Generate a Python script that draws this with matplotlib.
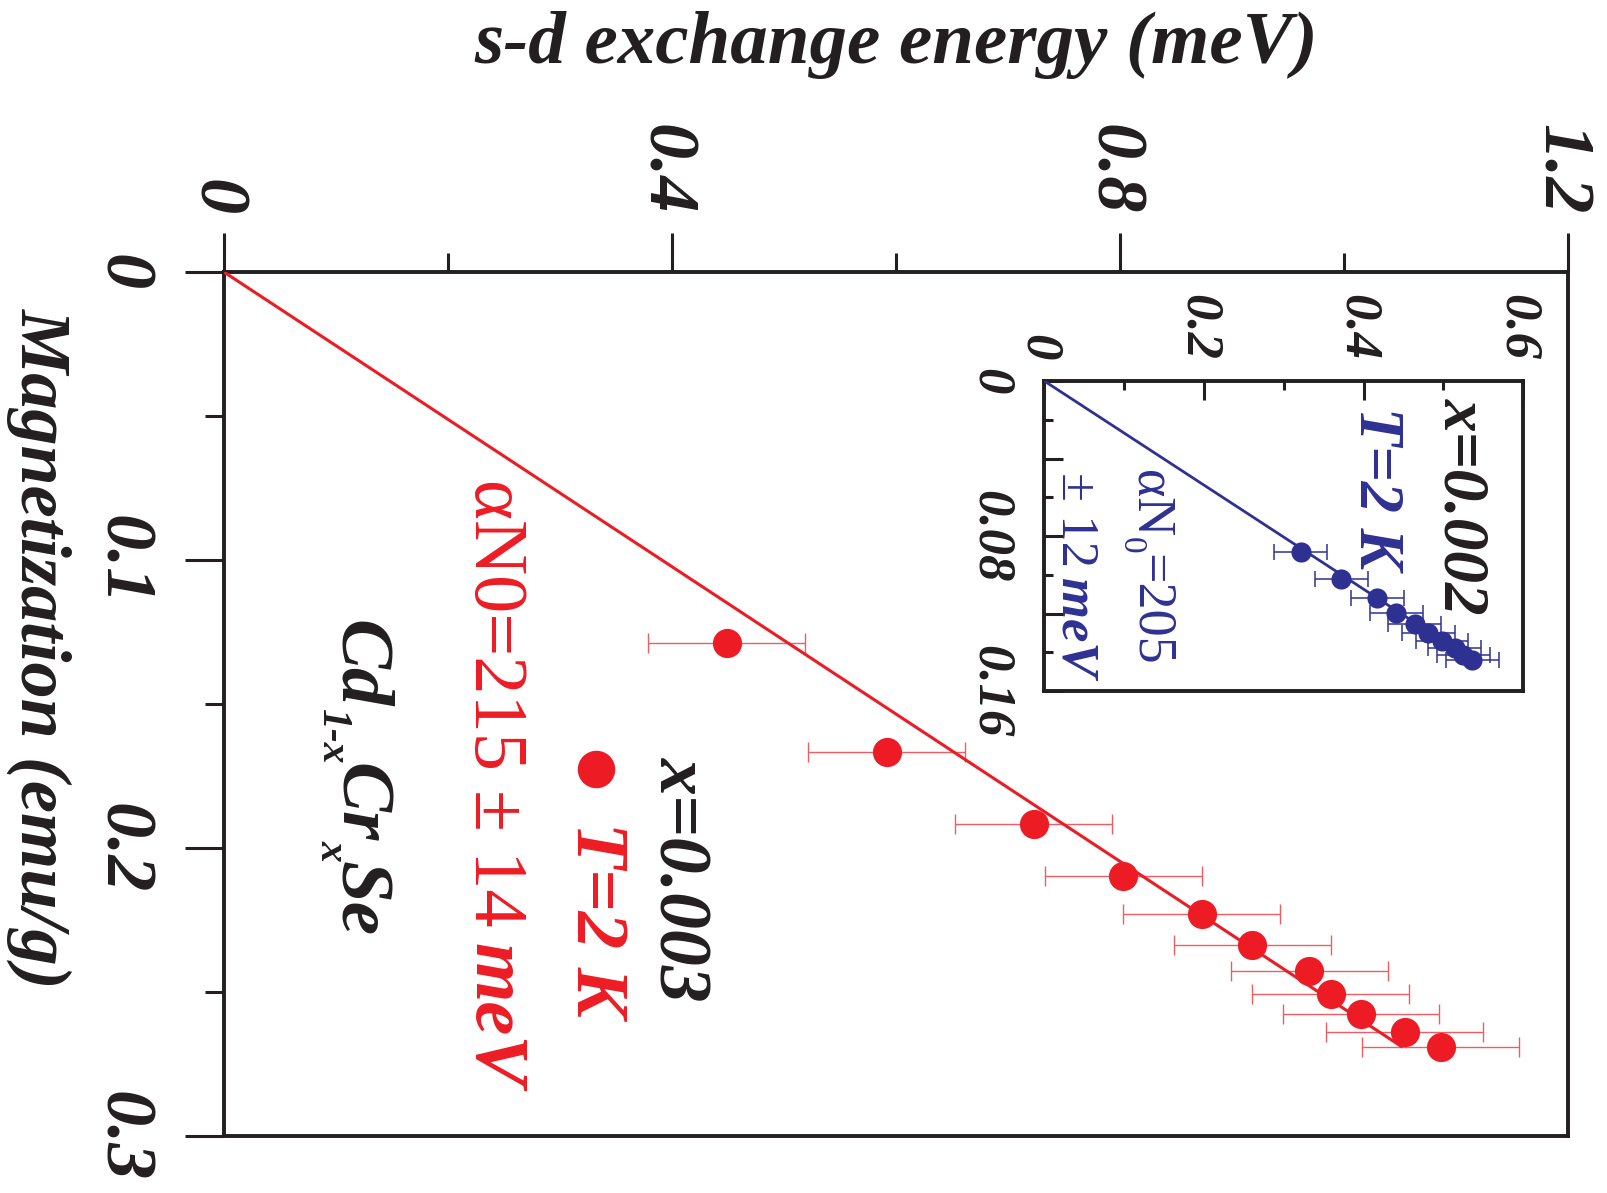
import matplotlib
matplotlib.use("Agg")
import matplotlib.pyplot as plt
from matplotlib.lines import Line2D
from matplotlib.transforms import ScaledTranslation

W_PX, H_PX = 1607, 1193

RED = "#ed1c24"
RED_ERR = "#f15c63"
BLUE = "#2e3192"
INK = "#231f20"

# main panel: Cd(1-x)Cr(x)Se, x = 0.003, T = 2 K
mag_main = [0.1290, 0.1669, 0.1919, 0.2097, 0.2230, 0.2338, 0.2428, 0.2508, 0.2577, 0.2639, 0.2692]
energy_main = [0.449, 0.592, 0.723, 0.803, 0.873, 0.918, 0.969, 0.988, 1.015, 1.054, 1.086]
energy_main_err = [0.07] * len(energy_main)
fit_main_mag = [0.0, 0.269]
fit_main_energy = [0.0, 1.051]

# inset: x = 0.002, T = 2 K
mag_inset = [0.0881, 0.1022, 0.1120, 0.1196, 0.1254, 0.1302, 0.1340, 0.1380, 0.1414, 0.1440]
energy_inset = [0.321, 0.372, 0.417, 0.441, 0.464, 0.481, 0.498, 0.514, 0.525, 0.536]
energy_inset_err = [0.033] * len(energy_inset)
fit_inset_mag = [0.0, 0.144]
fit_inset_energy = [0.0, 0.536]

main_xticks = [0, 0.4, 0.8, 1.2]
main_xticklabels = ["0", "0.4", "0.8", "1.2"]
main_xminor = [0.2, 0.6, 1.0]
main_yticks = [0, 0.1, 0.2, 0.3]
main_yticklabels = ["0", "0.1", "0.2", "0.3"]
main_yminor = [0.05, 0.15, 0.25]

inset_xticks = [0, 0.2, 0.4, 0.6]
inset_xticklabels = ["0", "0.2", "0.4", "0.6"]
inset_xminor = [0.1, 0.3, 0.5]
inset_yticks = [0, 0.04, 0.08, 0.12, 0.16]
inset_yticklabels = ["0", "", "0.08", "", "0.16"]
inset_yminor = [0.02, 0.06, 0.10, 0.14]

plt.rcParams["font.family"] = ["Liberation Serif", "DejaVu Serif"]
plt.rcParams["font.weight"] = "bold"
plt.rcParams["font.style"] = "italic"

BI = dict(weight="bold", style="italic")
RM = dict(weight="normal", style="normal")


def rect(left, top, right, bottom):
    return [left / W_PX, 1 - bottom / H_PX, (right - left) / W_PX, (bottom - top) / H_PX]


def fpos(x, y):
    return x / W_PX, 1 - y / H_PX


def vrun(fig, x, y, pieces, color):
    # text read top to bottom; (x, y) is the start of the baseline in pixels
    renderer = fig.canvas.get_renderer()
    for s, size, style, dx, gap in pieces:
        y += gap
        t = fig.text(*fpos(x + dx, y), s, rotation=-90, rotation_mode="anchor",
                     ha="left", va="baseline", fontsize=size, color=color, **style)
        y += t.get_window_extent(renderer).height


def style_axes(ax, lw):
    for sp in ax.spines.values():
        sp.set_linewidth(lw)
        sp.set_color(INK)


def nudge_top_labels(ax, fig, pts):
    # rotated labels: centre the digits, not the line box, on the tick
    shift = ScaledTranslation(-pts / 72, 0, fig.dpi_scale_trans)
    for lab in ax.get_xticklabels():
        lab.set_transform(lab.get_transform() + shift)


fig = plt.figure(figsize=(W_PX / 100, H_PX / 100), dpi=100)

ax = fig.add_axes(rect(223.5, 271.7, 1568.3, 1135.7))
ax.errorbar(energy_main, mag_main, xerr=energy_main_err, fmt="none", ecolor=RED_ERR,
            elinewidth=1.0, capsize=7.2, capthick=1.0, zorder=2)
ax.plot(fit_main_energy, fit_main_mag, color=RED, lw=2.2, zorder=3)
ax.plot(energy_main, mag_main, "o", color=RED, ms=21, mec="none", zorder=4)
ax.set_xlim(0, 1.2)
ax.set_ylim(0.3, 0)
ax.xaxis.tick_top()
ax.set_xticks(main_xticks)
ax.set_xticklabels(main_xticklabels)
ax.set_xticks(main_xminor, minor=True)
ax.set_yticks(main_yticks)
ax.set_yticklabels(main_yticklabels)
ax.set_yticks(main_yminor, minor=True)
ax.tick_params(which="both", direction="out", width=2.2, color=INK, labelsize=52,
               labelcolor=INK, right=False, bottom=False)
ax.tick_params(which="major", length=28)
ax.tick_params(which="minor", length=14)
ax.tick_params(axis="x", labelrotation=-90, pad=13)
ax.tick_params(axis="y", labelrotation=-90, pad=22)
for lab in ax.get_yticklabels():
    lab.set_va("center")
nudge_top_labels(ax, fig, 5.5)
style_axes(ax, 2.8)

fig.text(*fpos(896, 63), "s-d exchange energy (meV)", ha="center", va="baseline",
         fontsize=54, color=INK, **BI)
vrun(fig, 22, 308, [("Magnetization (emu/g)", 52, BI, 0, 0)], INK)

# legend-style annotations inside the main panel
vrun(fig, 660, 757, [("x=0.003", 53, BI, 0, 0)], INK)
fig.add_artist(Line2D([596 / W_PX], [1 - 769 / H_PX], marker="o", ms=27, color=RED,
                      mec="none", transform=fig.transFigure))
vrun(fig, 577, 822, [("T=2 K", 54, BI, 0, 0)], RED)
vrun(fig, 475, 479, [("\u03b1N0=215 \u00b1 14", 55, RM, 0, 0),
                     ("meV", 55, BI, 0, 16)], RED)
vrun(fig, 340, 620, [("Cd", 54, BI, 0, 0), ("1-x", 30, BI, -18, 0),
                     ("Cr", 54, BI, 0, 0), ("x", 30, BI, -18, -2),
                     ("Se", 54, BI, 0, 0)], INK)

axi = fig.add_axes(rect(1044.3, 381, 1523.3, 691))
axi.errorbar(energy_inset, mag_inset, xerr=energy_inset_err, fmt="none", ecolor=BLUE,
             elinewidth=1.1, capsize=6, capthick=1.1, zorder=2)
axi.plot(fit_inset_energy, fit_inset_mag, color=BLUE, lw=2.0, zorder=3)
axi.plot(energy_inset, mag_inset, "o", color=BLUE, ms=14.5, mec="none", zorder=4)
axi.set_xlim(0, 0.6)
axi.set_ylim(0.16, 0)
axi.xaxis.tick_top()
axi.set_xticks(inset_xticks)
axi.set_xticklabels(inset_xticklabels)
axi.set_xticks(inset_xminor, minor=True)
axi.set_yticks(inset_yticks)
axi.set_yticklabels(inset_yticklabels)
axi.set_yticks(inset_yminor, minor=True)
axi.tick_params(which="both", direction="in", width=2.2, color=INK, labelsize=38,
                labelcolor=INK, right=False, bottom=False)
axi.tick_params(which="major", length=13.5)
axi.tick_params(which="minor", length=6.5)
axi.tick_params(axis="x", labelrotation=-90, pad=15)
axi.tick_params(axis="y", labelrotation=-90, pad=21)
for lab in axi.get_yticklabels():
    lab.set_va("center")
nudge_top_labels(axi, fig, 4)
style_axes(axi, 2.8)

vrun(fig, 1445, 398, [("x=0.002", 47, BI, 0, 0)], INK)
vrun(fig, 1360, 407, [("T=2 K", 45, BI, 0, 0)], BLUE)
vrun(fig, 1137, 470, [("\u03b1N", 39, RM, 0, 0), ("0", 24, RM, -14, 0),
                      ("=205", 39, RM, 0, 0)], BLUE)
vrun(fig, 1062, 472, [("\u00b1 12", 38, RM, 0, 0), ("meV", 38, BI, 0, 11)], BLUE)

fig.savefig("out.png", dpi=100)
